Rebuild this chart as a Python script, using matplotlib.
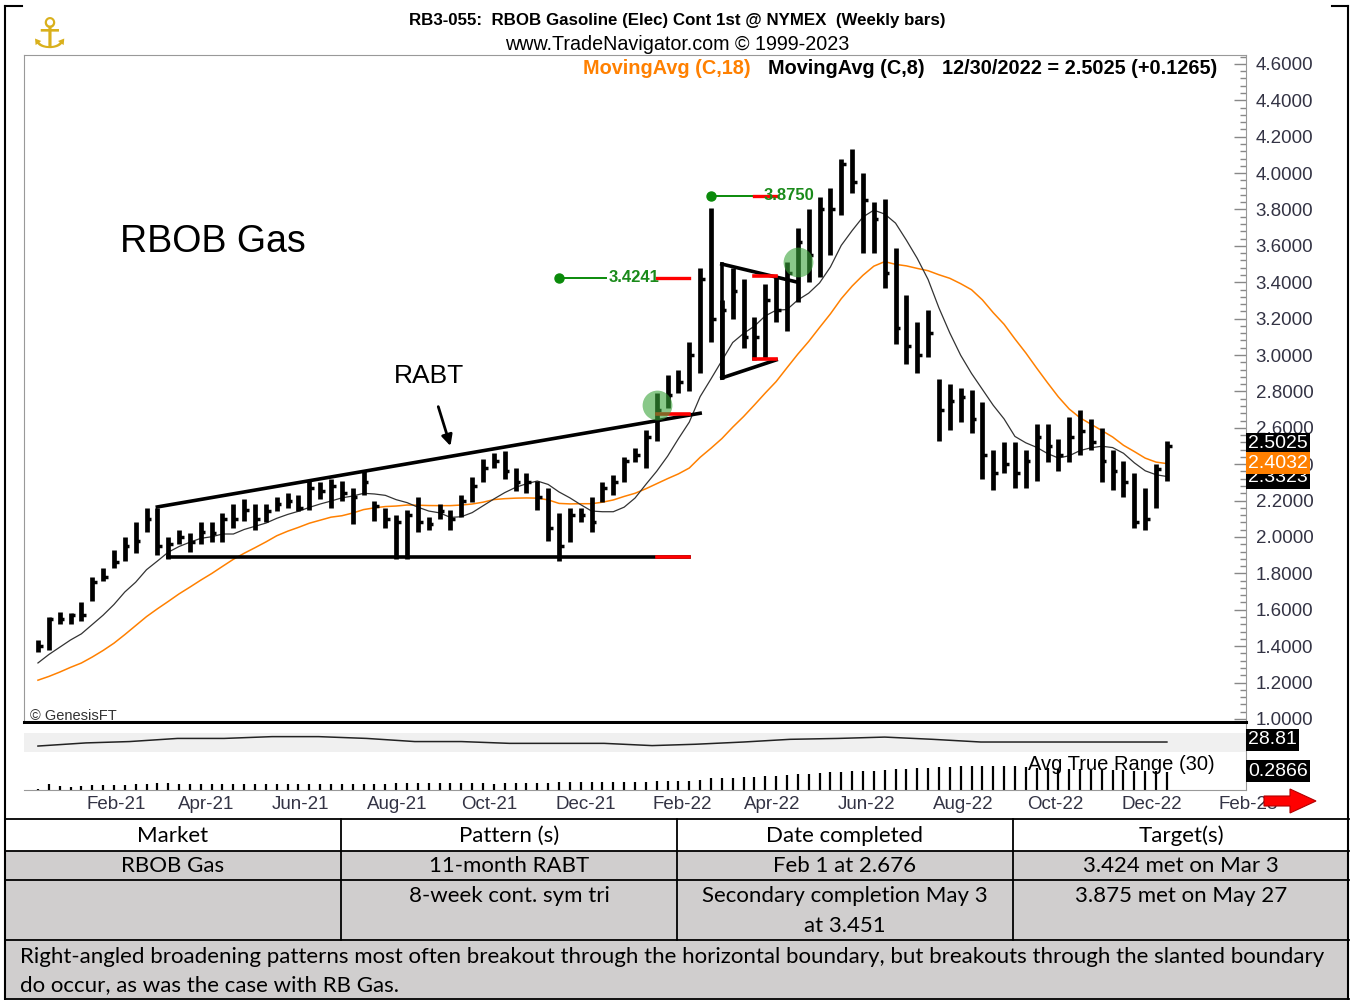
import pandas as pd
import matplotlib
matplotlib.use("Agg")
import matplotlib.pyplot as plt
import matplotlib.dates as mdates
from matplotlib.patches import Rectangle, FancyArrow
from matplotlib.ticker import MultipleLocator, FormatStrFormatter

plt.rcParams["font.family"] = ["Liberation Sans", "DejaVu Sans"]

# weekly bars, 1 Jan 2021 .. 30 Dec 2022
dates = pd.date_range("2021-01-01", periods=105, freq="7D")
highs = [1.433, 1.56, 1.59, 1.58, 1.64, 1.78, 1.83, 1.93, 2.00, 2.08,
         2.16, 2.16, 2.00, 2.04, 2.02, 2.08, 2.08, 2.13, 2.18, 2.21,
         2.18, 2.18, 2.22, 2.24, 2.23, 2.31, 2.30, 2.32, 2.31, 2.27,
         2.37, 2.20, 2.16, 2.12, 2.15, 2.22, 2.11, 2.18, 2.15, 2.23,
         2.33, 2.43, 2.46, 2.47, 2.38, 2.35, 2.31, 2.27, 2.13, 2.16,
         2.16, 2.22, 2.30, 2.34, 2.44, 2.49, 2.59, 2.79, 2.89, 2.92,
         3.07, 3.48, 3.81, 3.30, 3.48, 3.42, 3.21, 3.39, 3.43, 3.51,
         3.70, 3.80, 3.87, 3.92, 4.08, 4.13, 4.00, 3.84, 3.86, 3.59,
         3.33, 3.18, 3.25, 2.87, 2.84, 2.82, 2.81, 2.74, 2.48, 2.52,
         2.52, 2.48, 2.62, 2.62, 2.54, 2.66, 2.70, 2.65, 2.60, 2.48,
         2.42, 2.35, 2.27, 2.40, 2.53]
lows = [1.367, 1.38, 1.52, 1.52, 1.54, 1.65, 1.76, 1.83, 1.87, 1.91,
        2.03, 1.90, 1.88, 1.96, 1.92, 1.96, 1.97, 1.97, 2.05, 2.09,
        2.04, 2.08, 2.14, 2.16, 2.14, 2.15, 2.21, 2.16, 2.20, 2.07,
        2.23, 2.09, 2.05, 1.88, 1.88, 2.03, 2.04, 2.10, 2.04, 2.11,
        2.19, 2.30, 2.38, 2.32, 2.25, 2.24, 2.15, 1.98, 1.87, 1.97,
        2.08, 2.03, 2.19, 2.23, 2.30, 2.41, 2.38, 2.53, 2.71, 2.79,
        2.80, 2.90, 3.07, 2.87, 3.20, 3.04, 2.97, 2.98, 3.18, 3.13,
        3.29, 3.40, 3.43, 3.55, 3.77, 3.89, 3.56, 3.56, 3.37, 3.06,
        2.95, 2.90, 2.99, 2.53, 2.59, 2.63, 2.57, 2.32, 2.26, 2.35,
        2.27, 2.27, 2.31, 2.41, 2.36, 2.41, 2.45, 2.48, 2.30, 2.26,
        2.22, 2.05, 2.04, 2.16, 2.31]
closes = [1.40, 1.55, 1.55, 1.57, 1.57, 1.75, 1.78, 1.86, 1.95, 1.98,
          2.10, 1.95, 1.96, 2.00, 1.97, 2.03, 2.02, 2.10, 2.10, 2.15,
          2.10, 2.14, 2.18, 2.20, 2.16, 2.27, 2.25, 2.28, 2.24, 2.22,
          2.30, 2.17, 2.10, 2.08, 2.12, 2.08, 2.07, 2.14, 2.10, 2.20,
          2.28, 2.38, 2.42, 2.36, 2.30, 2.30, 2.22, 2.05, 1.95, 2.12,
          2.12, 2.08, 2.27, 2.30, 2.42, 2.45, 2.55, 2.70, 2.78, 2.85,
          3.00, 3.42, 3.20, 3.25, 3.35, 3.10, 3.10, 3.30, 3.25, 3.45,
          3.62, 3.55, 3.80, 3.80, 4.05, 3.95, 3.85, 3.75, 3.45, 3.15,
          3.05, 3.00, 3.12, 2.70, 2.75, 2.77, 2.65, 2.45, 2.35, 2.40,
          2.35, 2.42, 2.55, 2.50, 2.45, 2.55, 2.58, 2.52, 2.42, 2.36,
          2.30, 2.08, 2.10, 2.376, 2.5025]
# 17 weeks before the first bar, estimated from where the averages start
prior_closes = [1.18, 1.12, 1.10, 1.14, 1.16, 1.13, 1.14, 1.10, 1.09,
                1.21, 1.18, 1.23, 1.25, 1.30, 1.34, 1.37, 1.39]

# second study in the lower pane, read once a month
ind_dates = ["2021-01-01", "2021-02-01", "2021-03-01", "2021-04-01", "2021-05-01",
             "2021-06-01", "2021-07-01", "2021-08-01", "2021-09-01", "2021-10-01",
             "2021-11-01", "2021-12-01", "2022-01-01", "2022-02-01", "2022-03-01",
             "2022-04-01", "2022-05-01", "2022-06-01", "2022-07-01", "2022-08-01",
             "2022-09-01", "2022-10-01", "2022-11-01", "2022-12-01", "2022-12-30"]
ind_values = [27.91, 28.61, 28.91, 29.61, 29.61, 30.01, 30.01, 29.61, 28.91, 28.91,
              28.51, 28.51, 28.51, 28.01, 28.31, 28.81, 29.41, 29.61, 29.91, 29.41,
              28.81, 28.81, 28.81, 28.81, 28.81]

# pattern drawing
rabt_top_x = ["2021-03-19", "2022-03-04"]
rabt_top_y = [2.165, 2.68]
rabt_base_x = ["2021-03-26", "2022-02-25"]
rabt_base_y = [1.89, 1.89]
brk_x = ["2022-02-04", "2022-02-25"]
brk_y = [2.676, 1.89]
tri_top_x = ["2022-03-18", "2022-05-06"]
tri_top_y = [3.50, 3.40]
tri_bot_x = ["2022-03-18", "2022-04-22"]
tri_bot_y = [2.874, 2.973]
tri_red_x = ["2022-04-08", "2022-04-22"]
tri_red_y = [3.435, 2.978]
circle_x = ["2022-02-04", "2022-05-06"]
circle_y = [2.725, 3.51]
target_values = [3.4241, 3.875]
target_start = ["2021-12-03", "2022-03-11"]
target_green_end = ["2022-01-02", "2022-04-15"]
target_text_x = ["2022-01-04", "2022-04-14"]
target_red_x = [["2022-02-04", "2022-02-25"], ["2022-04-08", "2022-04-22"]]


def d(s):
    return mdates.date2num(pd.Timestamp(s))


def fx(px):
    return px / 1350


def fy(py):
    return 1 - py / 1000


all_c = pd.Series(prior_closes + closes)
ma8 = all_c.rolling(8).mean().iloc[len(prior_closes):].values
ma18 = all_c.rolling(18).mean().iloc[len(prior_closes):].values

h = pd.Series(highs)
l = pd.Series(lows)
pc = pd.Series([prior_closes[-1]] + closes[:-1])
tr = pd.concat([h - l, (h - pc).abs(), (l - pc).abs()], axis=1).max(axis=1)
atr = tr.rolling(30, min_periods=1).mean()

fig = plt.figure(figsize=(13.5, 10), dpi=100)

ax = fig.add_axes([fx(24), fy(722), (1246 - 24) / 1350, (722 - 55) / 1000])
ax2 = fig.add_axes([fx(24), fy(790), (1246 - 24) / 1350, (790 - 724) / 1000], sharex=ax)

# bars
ax.vlines(dates, lows, highs, color="black", lw=3.4, zorder=3)
ax.hlines(closes, dates, dates + pd.Timedelta(days=3), color="black", lw=2.5, zorder=3)
ax.plot(dates, ma18, color="#ff8000", lw=1.1, zorder=2)
ax.plot(dates, ma8, color="#333333", lw=0.9, zorder=2)

# RABT
ax.plot([d(x) for x in rabt_top_x], rabt_top_y, color="black", lw=2.6, zorder=4)
ax.plot([d(x) for x in rabt_base_x], rabt_base_y, color="black", lw=2.6, zorder=4)
for yv in brk_y:
    ax.plot([d(x) for x in brk_x], [yv, yv], color="#ff0000", lw=2.6, zorder=5)
ax.annotate("RABT", xy=(d("2021-09-24"), 2.50), xytext=(d("2021-09-10"), 2.885),
            ha="center", va="center", fontsize=19,
            arrowprops=dict(arrowstyle="-|>", color="black", lw=2, shrinkA=12, shrinkB=0,
                            mutation_scale=16))

# triangle
ax.plot([d(x) for x in tri_top_x], tri_top_y, color="black", lw=2.6, zorder=4)
ax.plot([d(x) for x in tri_bot_x], tri_bot_y, color="black", lw=2.6, zorder=4)
ax.plot([d(tri_top_x[0]), d(tri_top_x[0])], [tri_top_y[0], tri_bot_y[0]], color="black", lw=2.6, zorder=4)
for yv in tri_red_y:
    ax.plot([d(x) for x in tri_red_x], [yv, yv], color="#ff0000", lw=2.6, zorder=5)

ax.scatter([d(x) for x in circle_x], circle_y, s=460, color="#3aa43a", alpha=0.6, lw=0, zorder=6)

# targets
for i in range(2):
    tv = target_values[i]
    ax.plot([d(target_start[i]), d(target_green_end[i])], [tv, tv], color="#0a8a0a", lw=1.4, zorder=5)
    ax.plot([d(target_start[i])], [tv], "o", color="#0a8a0a", ms=6.5, zorder=5)
    ax.plot([d(x) for x in target_red_x[i]], [tv, tv], color="#ff0000", lw=2.4, zorder=5)
    ax.text(d(target_text_x[i]), tv, f"{tv:.4f}", color="#1a8a1a", fontsize=12,
            fontweight="bold", ha="left", va="center", zorder=6)

ax.set_xlim(pd.Timestamp("2020-12-23"), pd.Timestamp("2023-02-19"))
ax.set_ylim(0.983, 4.649)
ax.yaxis.tick_right()
ax.yaxis.set_major_locator(MultipleLocator(0.2))
ax.yaxis.set_minor_locator(MultipleLocator(0.04))
ax.yaxis.set_major_formatter(FormatStrFormatter("%.4f"))
ax.tick_params(axis="y", which="major", direction="in", length=9, width=1, color="#888888",
               pad=7, labelsize=13.5, labelcolor="#333344")
ax.tick_params(axis="y", which="minor", direction="in", length=4.5, width=1, color="#888888")
ax.tick_params(axis="x", bottom=False, labelbottom=False)
for s in ["left", "top", "right"]:
    ax.spines[s].set_color("#999999")
ax.spines["bottom"].set_color("black")
ax.spines["bottom"].set_linewidth(2.2)

# lower pane
ax2.add_patch(Rectangle((0, 0.576), 1, 0.288, transform=ax2.transAxes,
                        facecolor="#f0f0f0", edgecolor="none", zorder=0))
ax2.vlines(dates, 0.05, atr, color="black", lw=1.6)
ax2.set_ylim(0.05, 0.90)
ax2.set_yticks([])
ax2.spines["top"].set_visible(False)
ax2.spines["left"].set_visible(False)
ax2.spines["right"].set_color("#999999")
ax2.spines["bottom"].set_color("#999999")
ax2.xaxis.set_major_locator(mdates.MonthLocator(bymonth=(2, 4, 6, 8, 10, 12)))
ax2.xaxis.set_major_formatter(mdates.DateFormatter("%b-%y"))
ax2.tick_params(axis="x", length=0, pad=4, labelsize=13.5, labelcolor="#333344")
for lbl in ax2.get_xticklabels():
    lbl.set_ha("left")

ax3 = ax2.twinx()
ax3.plot(pd.to_datetime(ind_dates), ind_values, color="#222222", lw=1.1)
ax3.set_ylim(18.10, 32.83)
ax3.set_yticks([])
for s in ax3.spines.values():
    s.set_visible(False)

fig.text(fx(1215), fy(764), "Avg True Range (30)", ha="right", va="center", fontsize=14.5)

# header text
fig.text(fx(677), fy(20), "RB3-055:  RBOB Gasoline (Elec) Cont 1st @ NYMEX  (Weekly bars)",
         ha="center", va="center", fontsize=12.2, fontweight="bold")
fig.text(fx(677), fy(44), "www.TradeNavigator.com \u00a9 1999-2023", ha="center", va="center", fontsize=14.2)
fig.text(fx(583), fy(68), "MovingAvg (C,18)", ha="left", va="center", fontsize=14.3,
         fontweight="bold", color="#ff8000")
fig.text(fx(768), fy(68), "MovingAvg (C,8)", ha="left", va="center", fontsize=14.3, fontweight="bold")
fig.text(fx(1217), fy(68), "12/30/2022 = 2.5025 (+0.1265)", ha="right", va="center",
         fontsize=14.3, fontweight="bold")
fig.text(fx(120), fy(242), "RBOB Gas", ha="left", va="center", fontsize=27)
fig.text(fx(30), fy(716), "\u00a9 GenesisFT", ha="left", va="center", fontsize=10.5, color="#333333")
fig.text(fx(50), fy(36), "\u2693", ha="center", va="center", fontsize=30, color="#d9b01c",
         family=["DejaVu Sans"])

# last values on the price scale (stacked as in the source, partly covering each other)
box = dict(boxstyle="square,pad=0.12", edgecolor="none")
fig.text(fx(1248), fy(478), f"{ma8[-1]:.4f}", ha="left", va="center", fontsize=14, color="white",
         bbox=dict(box, facecolor="black"))
fig.text(fx(1248), fy(444), f"{closes[-1]:.4f}", ha="left", va="center", fontsize=14, color="white",
         bbox=dict(box, facecolor="black"))
fig.text(fx(1248), fy(463), f"{ma18[-1]:.4f}", ha="left", va="center", fontsize=14, color="white",
         bbox=dict(box, facecolor="#ff8000"))
fig.text(fx(1248), fy(740), "28.81", ha="left", va="center", fontsize=14, color="white",
         bbox=dict(box, facecolor="black"))
fig.text(fx(1248), fy(771), "0.2866", ha="left", va="center", fontsize=14, color="white",
         bbox=dict(box, facecolor="black"))

fig.add_artist(FancyArrow(12.64, 10 - 8.01, 0.26, 0, width=0.1, head_width=0.24,
                          head_length=0.26, length_includes_head=False,
                          facecolor="#ff0000", edgecolor="#b00000", lw=0.8,
                          transform=fig.dpi_scale_trans, zorder=10))

# frame around the chart
for xs, ys in [([5, 5], [6, 1000]), ([1348, 1348], [6, 1000]),
               ([5, 22], [6, 6]), ([1332, 1348], [6, 6])]:
    fig.add_artist(plt.Line2D([fx(x) for x in xs], [fy(y) for y in ys], color="black", lw=1.5))

# table
fig.add_artist(Rectangle((fx(6), fy(1000)), fx(1343), (1000 - 851) / 1000,
                         facecolor="#d0cece", edgecolor="none"))
for yl in [819, 851, 880, 940, 999]:
    fig.add_artist(plt.Line2D([fx(6), fx(1349)], [fy(yl), fy(yl)], color="black", lw=1.3))
for xl in [341, 677, 1013]:
    fig.add_artist(plt.Line2D([fx(xl), fx(xl)], [fy(819), fy(940)], color="black", lw=1.3))

cols = [173, 509, 845, 1181]
rows = [["Market", "Pattern (s)", "Date completed", "Target(s)"],
        ["RBOB Gas", "11-month RABT", "Feb 1 at 2.676", "3.424 met on Mar 3"],
        ["", "8-week cont. sym tri", "Secondary completion May 3", "3.875 met on May 27"]]
row_y = [836, 866, 896]
tfont = ["Lato", "DejaVu Sans"]
tsize = 16
for r, yv in zip(rows, row_y):
    for c, txt in zip(cols, r):
        fig.text(fx(c), fy(yv), txt, ha="center", va="center", fontsize=tsize, family=tfont)
fig.text(fx(845), fy(926), "at 3.451", ha="center", va="center", fontsize=tsize, family=tfont)
fig.text(fx(20), fy(957), "Right-angled broadening patterns most often breakout through the horizontal "
         "boundary, but breakouts through the slanted boundary", ha="left", va="center",
         fontsize=tsize, family=tfont)
fig.text(fx(20), fy(985), "do occur, as was the case with RB Gas.", ha="left", va="center",
         fontsize=tsize, family=tfont)

fig.savefig("out.png", dpi=100)
